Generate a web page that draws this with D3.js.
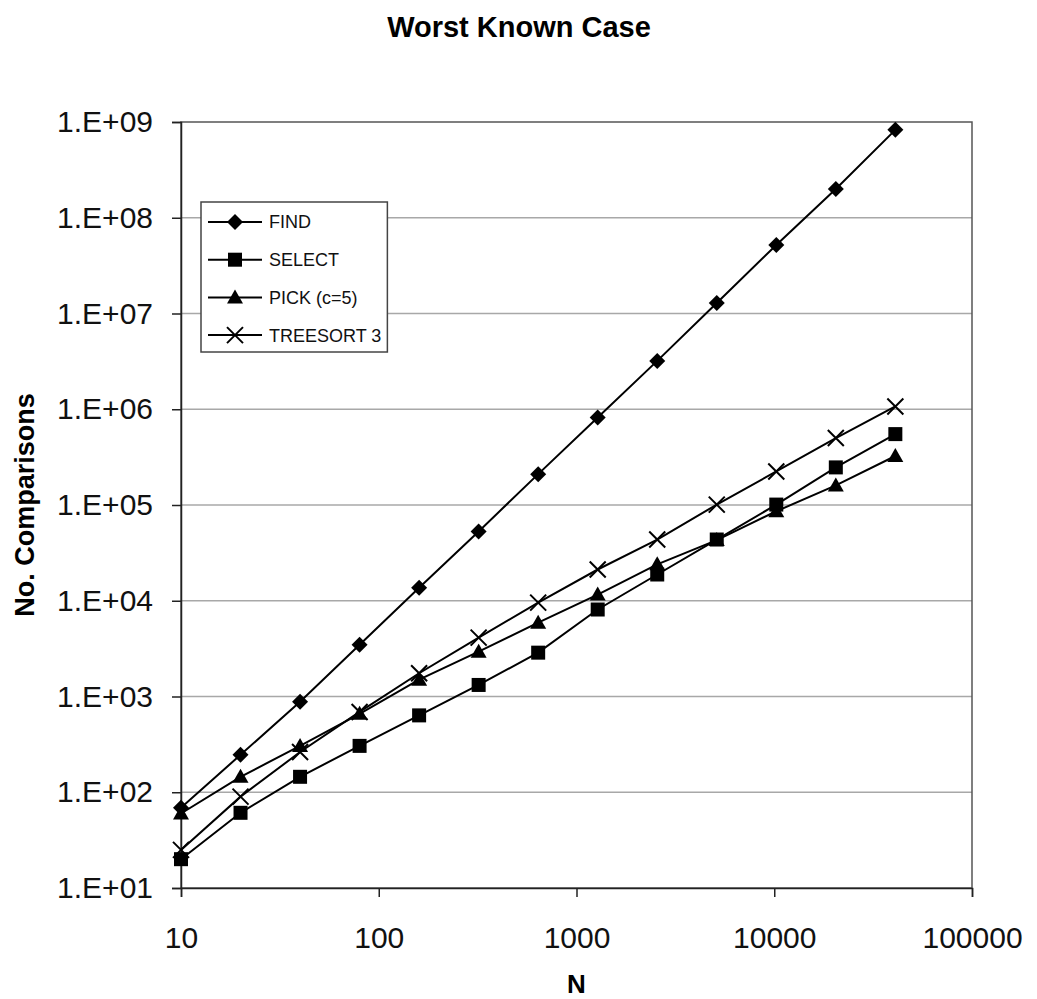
<!DOCTYPE html>
<html>
<head>
<meta charset="utf-8">
<script src="https://cdn.jsdelivr.net/npm/d3@7"></script>
<style>
  html, body { margin: 0; padding: 0; background: #fff; }
  svg { display: block; font-family: Arial, "Liberation Sans", sans-serif; }
</style>
</head>
<body>
<svg id="chart" width="1037" height="999"></svg>
<script>
// Problem sizes N (doubling from 10)
const nValues = [10, 20, 40, 80, 160, 320, 640, 1280, 2560, 5120, 10240, 20480, 40960];

// Worst-case comparison counts per algorithm
const findValues     = [69, 246, 883, 3470, 13700, 53000, 210000, 820000, 3.2e6, 1.29e7, 5.2e7, 2.0e8, 8.28e8];
const selectValues   = [20, 61, 145, 305, 635, 1320, 2870, 8100, 18800, 43600, 101000, 247000, 550000];
const pickValues     = [60, 145, 305, 660, 1500, 2940, 5900, 11600, 24000, 43000, 86000, 160000, 325000];
const treesortValues = [25, 90, 263, 690, 1750, 4120, 9560, 21200, 43600, 101000, 224000, 500000, 1.07e6];

const seriesNames = ["FIND", "SELECT", "PICK (c=5)", "TREESORT 3"];
const seriesMarkers = ["diamond", "square", "triangle", "cross"];

const xTickValues = [10, 100, 1000, 10000, 100000];
const yTickValues = [1e1, 1e2, 1e3, 1e4, 1e5, 1e6, 1e7, 1e8, 1e9];

const titleText = "Worst Known Case";
const xTitle = "N";
const yTitle = "No. Comparisons";

const series = [findValues, selectValues, pickValues, treesortValues].map((vals, i) => ({
  name: seriesNames[i],
  marker: seriesMarkers[i],
  points: vals.map((v, j) => ({ n: nValues[j], v }))
}));

const svg = d3.select("#chart");
const plot = { left: 181, right: 972, top: 122, bottom: 888 };

const x = d3.scaleLog().domain([10, 100000]).range([plot.left, plot.right]);
const y = d3.scaleLog().domain([10, 1e9]).range([plot.bottom, plot.top]);

// Title
svg.append("text")
  .attr("x", 519).attr("y", 37)
  .attr("text-anchor", "middle")
  .attr("font-size", 29).attr("font-weight", "bold")
  .text(titleText);

// Horizontal gridlines at each decade
svg.append("g")
  .selectAll("line")
  .data(yTickValues.slice(1, -1))
  .join("line")
  .attr("x1", plot.left).attr("x2", plot.right)
  .attr("y1", d => y(d)).attr("y2", d => y(d))
  .attr("stroke", "#a8a8a8").attr("stroke-width", 1.5);

// Plot frame
svg.append("rect")
  .attr("x", plot.left).attr("y", plot.top)
  .attr("width", plot.right - plot.left).attr("height", plot.bottom - plot.top)
  .attr("fill", "none").attr("stroke", "#555").attr("stroke-width", 1.5);

// Axes
const yAxis = d3.axisLeft(y)
  .tickValues(yTickValues)
  .tickFormat(d => "1.E+" + String(Math.round(Math.log10(d))).padStart(2, "0"))
  .tickSize(9).tickPadding(19);
const yg = svg.append("g").attr("transform", `translate(${plot.left},0)`).call(yAxis);
yg.select(".domain").attr("stroke", "#222").attr("stroke-width", 1.5);
yg.selectAll(".tick line").attr("stroke", "#222").attr("stroke-width", 1.5);
yg.selectAll(".tick text").attr("font-size", 30).attr("fill", "#111")
  .attr("font-family", "Arial, 'Liberation Sans', sans-serif");

const xAxis = d3.axisBottom(x)
  .tickValues(xTickValues)
  .tickFormat(d3.format("d"))
  .tickSize(9).tickPadding(30);
const xg = svg.append("g").attr("transform", `translate(0,${plot.bottom})`).call(xAxis);
xg.select(".domain").attr("stroke", "#222").attr("stroke-width", 1.5);
xg.selectAll(".tick line").attr("stroke", "#222").attr("stroke-width", 1.5);
xg.selectAll(".tick text").attr("font-size", 30).attr("fill", "#111")
  .attr("font-family", "Arial, 'Liberation Sans', sans-serif");

// Axis titles
svg.append("text")
  .attr("x", (plot.left + plot.right) / 2).attr("y", 993)
  .attr("text-anchor", "middle")
  .attr("font-size", 26).attr("font-weight", "bold")
  .text(xTitle);

svg.append("text")
  .attr("transform", `translate(34,${(plot.top + plot.bottom) / 2}) rotate(-90)`)
  .attr("text-anchor", "middle")
  .attr("font-size", 27).attr("font-weight", "bold")
  .text(yTitle);

// Marker shapes
function drawMarker(g, type, cx, cy) {
  if (type === "diamond") {
    g.append("path").attr("d", `M${cx},${cy - 8}L${cx + 8},${cy}L${cx},${cy + 8}L${cx - 8},${cy}Z`).attr("fill", "#000");
  } else if (type === "square") {
    g.append("rect").attr("x", cx - 7).attr("y", cy - 7).attr("width", 14).attr("height", 14).attr("fill", "#000");
  } else if (type === "triangle") {
    g.append("path").attr("d", `M${cx},${cy - 8}L${cx + 8},${cy + 6}L${cx - 8},${cy + 6}Z`).attr("fill", "#000");
  } else if (type === "cross") {
    g.append("path").attr("d", `M${cx - 8},${cy - 8}L${cx + 8},${cy + 8}M${cx - 8},${cy + 8}L${cx + 8},${cy - 8}`)
      .attr("stroke", "#000").attr("stroke-width", 2).attr("fill", "none");
  }
}

// Series lines and markers
const line = d3.line().x(d => x(d.n)).y(d => y(d.v));
const sg = svg.append("g");
series.forEach(s => {
  sg.append("path").attr("d", line(s.points))
    .attr("fill", "none").attr("stroke", "#000").attr("stroke-width", 2);
});
series.forEach(s => {
  const mg = sg.append("g");
  s.points.forEach(p => drawMarker(mg, s.marker, x(p.n), y(p.v)));
});

// Legend: box sized to hold the longest label
const legend = svg.append("g");
const box = legend.append("rect")
  .attr("x", 201).attr("y", 202).attr("height", 150)
  .attr("fill", "#fff").attr("stroke", "#444").attr("stroke-width", 1.5);
let maxRight = 361;
series.forEach((s, i) => {
  const ly = 222 + i * 37.7;
  legend.append("line").attr("x1", 208).attr("x2", 262).attr("y1", ly).attr("y2", ly)
    .attr("stroke", "#000").attr("stroke-width", 2);
  drawMarker(legend, s.marker, 235, ly);
  const t = legend.append("text").attr("x", 269).attr("y", ly).attr("dy", "0.36em")
    .attr("font-size", 18).attr("fill", "#111").text(s.name);
  maxRight = Math.max(maxRight, 269 + t.node().getComputedTextLength() + 6);
});
box.attr("width", maxRight - 201);
</script>
</body>
</html>
